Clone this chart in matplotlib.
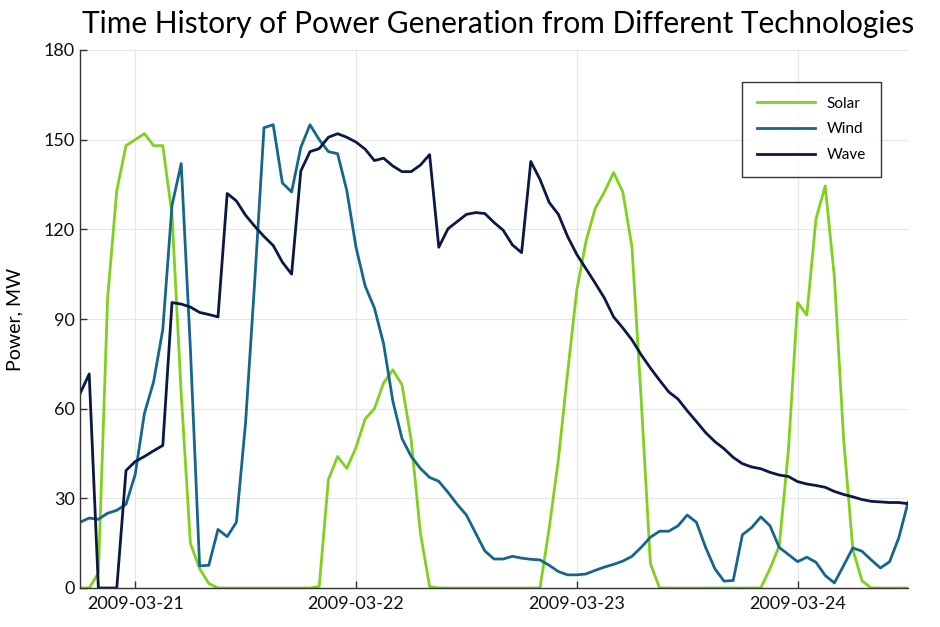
import numpy as np
import pandas as pd
import matplotlib
matplotlib.use("Agg")
import matplotlib.pyplot as plt
import matplotlib.dates as mdates

# hourly samples, 2009-03-20 18:00 .. 2009-03-24 12:00
times = pd.date_range("2009-03-20 18:00", periods=91, freq="h")

solar = [0, 0, 5, 97, 133, 148, 150, 152, 148, 148,
         125, 65, 15, 6.5, 1.5, 0, 0, 0, 0, 0,
         0, 0, 0, 0, 0, 0, 0.5, 36.3, 44, 40,
         47, 56.6, 60, 68.6, 73, 68, 49.5, 18.4, 0.5, 0,
         0, 0, 0, 0, 0, 0, 0, 0, 0, 0,
         0, 20, 43, 72, 99.7, 116, 127, 132.5, 139, 132.5,
         114, 63, 8.2, 0, 0, 0, 0, 0, 0, 0,
         0, 0, 0, 0, 0, 6.5, 14, 46, 95.5, 91.3,
         123.5, 134.5, 104, 50, 13, 2.4, 0, 0, 0, 0,
         0]

wind = [22, 23.4, 23, 25, 26, 28, 38, 58.4, 69, 86.5,
        128, 142, 80, 7.4, 7.6, 19.6, 17.2, 22, 55.4, 103,
        154, 155, 135.5, 132.5, 147.4, 155, 150, 146, 145.3, 133,
        114, 101, 93.7, 81.7, 62.6, 50, 44, 40, 37, 35.7,
        32, 28, 24.4, 18.4, 12.4, 9.7, 9.7, 10.6, 10, 9.6,
        9.4, 7.6, 5.5, 4.4, 4.4, 4.7, 5.9, 7, 7.9, 9,
        10.6, 13.6, 17, 19, 19, 20.8, 24.4, 22, 13.6, 6.5,
        2.3, 2.5, 17.8, 20.2, 23.8, 20.8, 13.6, 11.2, 8.8, 10.3,
        8.6, 4.2, 1.7, 7.5, 13.4, 12.3, 9.4, 6.7, 8.8, 16.8,
        28.6]

wave = [65, 71.6, 0, 0, 0, 39.3, 42.3, 44, 45.9, 47.7,
        95.5, 95, 94, 92.2, 91.5, 90.7, 132, 129.5, 124.7, 121,
        117.6, 114.6, 109, 105, 139.5, 146, 147, 150.8, 152, 150.8,
        149.2, 146.8, 143, 143.8, 141.2, 139.3, 139.3, 141.5, 145, 114,
        120.2, 122.6, 125, 125.6, 125.3, 122.3, 119.7, 114.8, 112.2, 142.7,
        136.7, 129, 125, 117.6, 111.6, 106.8, 102, 97, 90.7, 87,
        83, 78, 73.6, 69.5, 65.6, 63.2, 59.3, 55.7, 52, 49,
        46.6, 43.7, 41.6, 40.5, 39.9, 38.7, 37.8, 37.3, 35.6, 34.8,
        34.3, 33.7, 32.3, 31.3, 30.5, 29.6, 29, 28.8, 28.6, 28.6,
        28.2]

labels = ["Solar", "Wind", "Wave"]
colors = ["#7ed11c", "#14678b", "#0b1846"]
yticks = [0, 30, 60, 90, 120, 150, 180]
xticks = ["2009-03-21", "2009-03-22", "2009-03-23", "2009-03-24"]

plt.rcParams["font.family"] = ["Lato", "DejaVu Sans"]

fig = plt.figure(figsize=(9.4, 6.27), dpi=100)
ax = fig.add_axes([80 / 940, 1 - 588 / 627, 828 / 940, 538 / 627])

for series, lab, c in zip([solar, wind, wave], labels, colors):
    ax.plot(times, series, color=c, lw=2.0, label=lab)

ax.set_xlim(times[0], times[-1])
ax.set_ylim(0, 180)
ax.set_yticks(yticks)
ax.set_xticks(pd.to_datetime(xticks))
ax.xaxis.set_major_formatter(mdates.DateFormatter("%Y-%m-%d"))
ax.grid(True, color="#e6e6e6", lw=0.8)
ax.set_axisbelow(True)
for s in ["top", "right"]:
    ax.spines[s].set_visible(False)
for s in ["left", "bottom"]:
    ax.spines[s].set_color("#333333")
    ax.spines[s].set_linewidth(1.0)
ax.tick_params(direction="in", length=5, width=1, colors="#333333",
               labelsize=13, labelcolor="#111111")
ax.tick_params(axis="x", pad=6)
ax.set_ylabel("Power, MW", fontsize=14)
ax.yaxis.set_label_coords(-0.068, 0.5)
ax.set_title("Time History of Power Generation from Different Technologies",
             fontsize=21.5, pad=12, x=0.505)

leg = ax.legend(loc="upper right", bbox_to_anchor=(0.967, 0.9405), fontsize=11,
                frameon=True, fancybox=False, edgecolor="#000000",
                handlelength=3.8, borderpad=0.95, labelspacing=0.78,
                handletextpad=0.8, borderaxespad=0)
leg.get_frame().set_linewidth(1.0)

fig.savefig("out.png", dpi=100, facecolor="white")
